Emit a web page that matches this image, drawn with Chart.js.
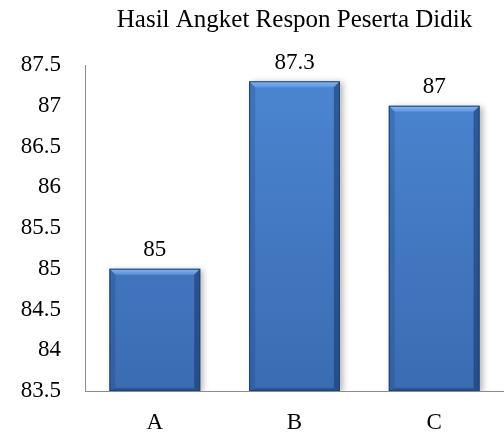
<!DOCTYPE html>
<html>
<head>
<meta charset="utf-8">
<script src="https://cdn.jsdelivr.net/npm/chart.js@4"></script>
<style>
    html, body { margin: 0; padding: 0; background: #fff; }
    #wrap { width: 504px; height: 434px; }
</style>
</head>
<body>
<div id="wrap"><canvas id="chart" width="504" height="434"></canvas></div>
<script>
// Chart data
const categories = ["A", "B", "C"];
const scores = [85, 87.3, 87];
const yMin = 83.5;
const yMax = 87.5;
const yStep = 0.5;
const titleText = "Hasil Angket Respon Peserta Didik";

const serif = "'Liberation Serif', 'Times New Roman', serif";

/**
 * Soft shadow behind the bars.
 */
const barShadow = {
    id: "barShadow",
    beforeDatasetsDraw(chart) {
        const ctx = chart.ctx;
        ctx.save();
        ctx.shadowColor = "rgba(0, 0, 0, 0.28)";
        ctx.shadowBlur = 6;
        ctx.shadowOffsetX = 3;
        ctx.shadowOffsetY = 1;
    },
    afterDatasetsDraw(chart) {
        chart.ctx.restore();
    }
};

/**
 * Bevel edges on each bar plus the value label above it.
 */
const barBevel = {
    id: "barBevel",
    afterDatasetsDraw(chart) {
        const ctx = chart.ctx;
        const meta = chart.getDatasetMeta(0);
        const b = 6;

        meta.data.forEach((bar, i) => {
            const p = bar.getProps(["x", "y", "base", "width"], true);
            const l = p.x - p.width / 2;
            const r = p.x + p.width / 2;
            const t = p.y;
            const bot = Math.min(p.base, chart.chartArea.bottom);

            const poly = (pts, fill) => {
                ctx.beginPath();
                ctx.moveTo(pts[0][0], pts[0][1]);
                pts.slice(1).forEach(q => ctx.lineTo(q[0], q[1]));
                ctx.closePath();
                ctx.fillStyle = fill;
                ctx.fill();
            };

            ctx.save();
            const topGrad = ctx.createLinearGradient(0, t, 0, t + b);
            topGrad.addColorStop(0, "rgba(150, 200, 255, 0.85)");
            topGrad.addColorStop(1, "rgba(110, 165, 235, 0.55)");
            poly([[l, t], [r, t], [r - b, t + b], [l + b, t + b]], topGrad);
            poly([[l, t], [l + b, t + b], [l + b, bot - 3], [l, bot]], "rgba(25, 55, 105, 0.22)");
            poly([[r, t], [r - b, t + b], [r - b, bot - 3], [r, bot]], "rgba(15, 40, 85, 0.45)");
            poly([[l, bot], [l + b, bot - 3], [r - b, bot - 3], [r, bot]], "rgba(15, 40, 85, 0.35)");

            ctx.strokeStyle = "#1f416f";
            ctx.lineWidth = 1;
            ctx.strokeRect(l + 0.5, t + 0.5, p.width - 1, bot - t - 1);

            ctx.fillStyle = "#000";
            ctx.font = "23px " + serif;
            ctx.textAlign = "center";
            ctx.textBaseline = "bottom";
            ctx.fillText(String(scores[i]), p.x, t - 7);
            ctx.restore();
        });
    }
};

new Chart(document.getElementById("chart"), {
    type: "bar",
    data: {
        labels: categories,
        datasets: [{
            data: scores,
            base: yMin,
            backgroundColor(context) {
                const area = context.chart.chartArea;
                if (!area) {
                    return "#4479c4";
                }
                const g = context.chart.ctx.createLinearGradient(0, area.top, 0, area.bottom);
                g.addColorStop(0, "#4c86d2");
                g.addColorStop(1, "#3a6cb2");
                return g;
            },
            borderWidth: 0,
            categoryPercentage: 1,
            barPercentage: 0.65
        }]
    },
    options: {
        responsive: false,
        animation: false,
        layout: { padding: { top: 5, right: 0, bottom: 0, left: 0 } },
        plugins: {
            legend: { display: false },
            tooltip: { enabled: false },
            title: {
                display: true,
                text: titleText,
                fullSize: false,
                color: "#000",
                font: { family: serif, size: 25, weight: "normal" },
                padding: { top: 0, bottom: 30 }
            }
        },
        scales: {
            x: {
                grid: { display: false, drawTicks: false },
                border: { display: true, color: "#8c8c8c", width: 1 },
                ticks: {
                    color: "#000",
                    padding: 18,
                    font: { family: serif, size: 23 }
                },
                afterFit(scale) { scale.height = 43; }
            },
            y: {
                min: yMin,
                max: yMax,
                grid: { display: false, drawTicks: false },
                border: { display: true, color: "#8c8c8c", width: 1 },
                ticks: {
                    stepSize: yStep,
                    color: "#000",
                    padding: 24,
                    font: { family: serif, size: 23 },
                    callback: v => String(v)
                },
                afterFit(scale) { scale.width = 85; }
            }
        }
    },
    plugins: [barShadow, barBevel]
});
</script>
</body>
</html>
